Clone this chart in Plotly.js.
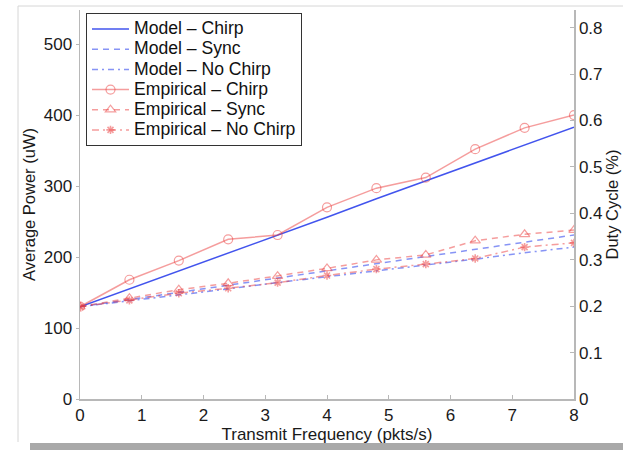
<!DOCTYPE html>
<html>
<head>
<meta charset="utf-8">
<script src="https://cdn.plot.ly/plotly-3.0.1.min.js"></script>
<style>
  html, body { margin: 0; padding: 0; background: #fff; }
  #chart { width: 623px; height: 450px; }
</style>
</head>
<body>
<div id="chart"></div>
<script>
// Transmit frequency (pkts/s) at which each setting was measured / modelled
const freq = [0, 0.8, 1.6, 2.4, 3.2, 4.0, 4.8, 5.6, 6.4, 7.2, 8.0];

// Average power (uW), model predictions
const modelChirp   = [130, 155, 181, 206, 231, 256, 282, 307, 332, 358, 383];
const modelSync    = [130, 140, 150, 160, 170, 180, 191, 201, 211, 221, 231];
const modelNoChirp = [130, 138, 147, 155, 164, 172, 180, 189, 197, 206, 214];

// Average power (uW), empirical measurements
const empChirp   = [130, 168, 195, 225, 231, 270, 297, 312, 352, 382, 400];
const empSync    = [130, 142, 154, 163, 173, 184, 196, 203, 223, 232, 238];
const empNoChirp = [130, 139, 149, 156, 164, 174, 183, 190, 198, 214, 220];

const seriesNames = [
  'Model \u2013 Chirp', 'Model \u2013 Sync', 'Model \u2013 No Chirp',
  'Empirical \u2013 Chirp', 'Empirical \u2013 Sync', 'Empirical \u2013 No Chirp'
];

const FONT = 'Liberation Sans, Arial, Helvetica, sans-serif';
const BLUE = 'rgba(45,65,235,0.9)';
const BLUE_LIGHT = 'rgba(70,90,240,0.65)';
const RED = 'rgba(235,60,60,0.5)';
// larger glyphs inside a compact legend row
const label = s => '<span style="font-size:17.6px">' + s + '</span>';

const traces = [
  { x: freq, y: modelChirp, name: label(seriesNames[0]), mode: 'lines',
    line: { color: BLUE, width: 1.5 } },
  { x: freq, y: modelSync, name: label(seriesNames[1]), mode: 'lines',
    line: { color: BLUE_LIGHT, width: 1.5, dash: '6px,5px' } },
  { x: freq, y: modelNoChirp, name: label(seriesNames[2]), mode: 'lines',
    line: { color: BLUE_LIGHT, width: 1.5, dash: '6px,4px,2px,4px' } },
  { x: freq, y: empChirp, name: label(seriesNames[3]), mode: 'lines+markers',
    line: { color: RED, width: 1.5 },
    marker: { symbol: 'circle-open', size: 9, color: RED, line: { width: 1.2, color: RED } } },
  { x: freq, y: empSync, name: label(seriesNames[4]), mode: 'lines+markers',
    line: { color: RED, width: 1.5, dash: '6px,5px' },
    marker: { symbol: 'triangle-up-open', size: 9, color: RED, line: { width: 1.2, color: RED } } },
  { x: freq, y: empNoChirp, name: label(seriesNames[5]), mode: 'lines+markers',
    line: { color: RED, width: 1.5, dash: '7px,4px,2px,4px' },
    marker: { symbol: 'asterisk-open', size: 7, color: RED, line: { width: 1.6, color: 'rgba(225,40,40,0.8)' } } },
  // keeps the duty-cycle axis attached to the plot
  { x: [], y: [], yaxis: 'y2', showlegend: false, hoverinfo: 'skip', mode: 'lines' }
];

// figure frame (light border and lower shadow bar), in paper units
const L = 80, T = 10, PW = 494, PH = 389;
const px = v => (v - L) / PW;
const py = v => (T + PH - v) / PH;

const axisLine = '#b8b8b8';
const tickFont = { family: FONT, size: 17, color: '#1a1a1a' };

const layout = {
  width: 623, height: 450,
  margin: { l: L, r: 623 - L - PW, t: T, b: 450 - T - PH },
  paper_bgcolor: '#fff', plot_bgcolor: '#fff',
  font: { family: FONT, color: '#1a1a1a' },
  showlegend: true,
  legend: {
    x: px(86), y: py(13), xanchor: 'left', yanchor: 'top',
    bgcolor: '#fff', bordercolor: '#333', borderwidth: 1,
    font: { family: FONT, size: 13.2, color: '#111' },
    itemwidth: 37
  },
  xaxis: {
    range: [0, 8], tick0: 0, dtick: 1, ticks: 'inside', ticklen: 4,
    tickcolor: axisLine, showline: true, linecolor: axisLine, linewidth: 1.5,
    showgrid: false, zeroline: false, tickfont: tickFont,
    title: { text: 'Transmit Frequency (pkts/s)', font: { family: FONT, size: 17, color: '#1a1a1a' }, standoff: 0 }
  },
  yaxis: {
    range: [0, 548], tick0: 0, dtick: 100, ticks: 'outside', ticklen: 3,
    tickcolor: axisLine, showline: true, linecolor: axisLine, linewidth: 1.5,
    showgrid: false, zeroline: false, tickfont: tickFont,
    title: { text: 'Average Power (uW)', font: { family: FONT, size: 16.5, color: '#1a1a1a' }, standoff: 4 }
  },
  yaxis2: {
    overlaying: 'y', side: 'right', anchor: 'x',
    range: [0, 0.838], tick0: 0, dtick: 0.1, ticks: 'inside', ticklen: 4,
    tickcolor: axisLine, showline: true, linecolor: axisLine, linewidth: 1.5,
    showgrid: false, zeroline: false, tickfont: tickFont,
    title: { text: 'Duty Cycle (%)', font: { family: FONT, size: 16.5, color: '#1a1a1a' }, standoff: 4 }
  },
  shapes: [
    { type: 'line', xref: 'paper', yref: 'paper', layer: 'below',
      x0: px(18), x1: px(623), y0: py(6), y1: py(6), line: { color: '#d6d6d6', width: 1 } },
    { type: 'line', xref: 'paper', yref: 'paper', layer: 'below',
      x0: px(18), x1: px(18), y0: py(6), y1: py(442), line: { color: '#d6d6d6', width: 1 } },
    { type: 'rect', xref: 'paper', yref: 'paper', layer: 'below',
      x0: px(30), x1: px(623), y0: py(443), y1: py(450), fillcolor: '#a9a9a9', line: { width: 0 } }
  ]
};

Plotly.newPlot('chart', traces, layout, { displayModeBar: false, staticPlot: true });
</script>
</body>
</html>
